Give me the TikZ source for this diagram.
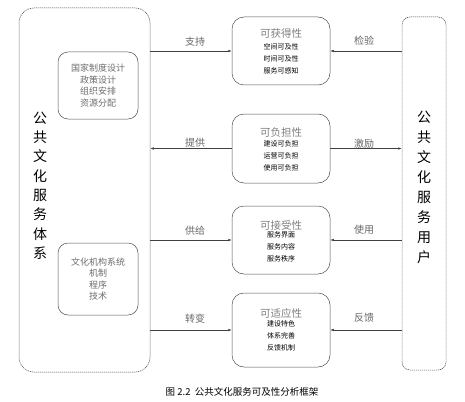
\documentclass[tikz,border=0pt]{standalone}
\usepackage{fontspec}
\newfontfamily\cjk{Noto Sans CJK SC}
\usetikzlibrary{arrows.meta}
\definecolor{ln}{HTML}{404040}
\definecolor{bx}{HTML}{505050}
\definecolor{tg}{HTML}{808080}
\begin{document}
\begin{tikzpicture}[x=1pt,y=-1pt,
  outer/.style={draw=ln,line width=0.5pt,dash pattern=on 1.2pt off 0.8pt,rounded corners=15pt},
  inbox/.style={draw=bx,line width=0.5pt,rounded corners=10pt},
  midbox/.style={draw=bx,line width=0.5pt,rounded corners=12pt,minimum width=98pt},
  ttl/.style={font=\cjk\fontsize{10.5}{12}\selectfont,text=tg,inner sep=0pt},
  sub/.style={font=\cjk\fontsize{7}{11.8}\selectfont,align=center,inner sep=0pt},
  gtx/.style={font=\cjk\fontsize{9}{11.6}\selectfont,text=tg!85!black,align=center,inner sep=0pt},
  lbl/.style={font=\cjk\fontsize{10}{12}\selectfont,text=tg!80!black,inner sep=0pt},
  vt/.style={font=\cjk\fontsize{14}{19.3}\selectfont,align=center,inner sep=0pt},
  arr/.style={draw=ln,line width=0.5pt,-{Latex[length=3.5pt,width=2.5pt]}}]
\useasboundingbox (0,0) rectangle (465,401);
% outer boxes
\node[outer,minimum width=131pt,minimum height=364pt] (L) at (84.5,190) {};
\node[outer,rounded corners=8pt,minimum width=44pt,minimum height=353pt] (R) at (424,193.5) {};
\node[vt] (LT) at (40,185.5) {公\\共\\文\\化\\服\\务\\体\\系};
\node[vt,font=\cjk\fontsize{14}{20.1}\selectfont] (RT) at (424,187.5) {公\\共\\文\\化\\服\\务\\用\\户};
% inner left boxes
\node[inbox,minimum width=80pt,minimum height=67pt] (LA) at (98,85.5) {};
\node[gtx] (LAt) at (98,85.5) {国家制度设计\\政策设计\\组织安排\\资源分配};
\node[inbox,minimum width=80pt,minimum height=72pt] (LB) at (98,279) {};
\node[gtx] (LBt) at (98,279) {文化机构系统\\机制\\程序\\技术};
% middle boxes
\node[midbox,minimum height=68pt] (B1) at (281,51) {};
\node[ttl] (T1) at (281,34) {可获得性};
\node[sub] (S1) at (281,59) {空间可及性\\时间可及性\\服务可感知};
\node[midbox,minimum height=69pt] (B2) at (281,148.5) {};
\node[ttl] (T2) at (281,133) {可负担性};
\node[sub] (S2) at (281,156) {建设可负担\\运营可负担\\使用可负担};
\node[midbox,minimum height=68pt] (B3) at (281,240) {};
\node[ttl] (T3) at (281,225) {可接受性};
\node[sub] (S3) at (281,247) {服务界面\\服务内容\\服务秩序};
\node[midbox,minimum height=74pt] (B4) at (281,330) {};
\node[ttl] (T4) at (281,314) {可适应性};
\node[sub] (S4) at (281,336) {建设特色\\体系完善\\反馈机制};
% connectors left
\draw[arr] (B1.west -| L.east) -- (B1.west);
\draw[arr] (B2.west) -- (B2.west -| L.east);
\draw[arr] (B3.west -| L.east) -- (B3.west);
\draw[arr] (B4.west -| L.east) -- (B4.west);
\node[lbl] (l1) at (195,42) {支持};
\node[lbl] (l2) at (195,143) {提供};
\node[lbl] (l3) at (195,231) {供给};
\node[lbl] (l4) at (195,319) {转变};
% connectors right
\draw[arr] (B1.east -| R.west) -- (B1.east);
\draw[arr] (B2.east) -- (B2.east -| R.west);
\draw[arr] (B3.east -| R.west) -- (B3.east);
\draw[arr] (B4.east -| R.west) -- (B4.east);
\node[lbl] (r1) at (364,41) {检验};
\node[lbl] (r2) at (364,144) {激励};
\node[lbl] (r3) at (364,230) {使用};
\node[lbl] (r4) at (364,318) {反馈};
% caption
\node[font=\cjk\fontsize{9.5}{12}\selectfont,inner sep=0pt] (cap) at (242,392) {图 2.2\ \ 公共文化服务可及性分析框架};
\end{tikzpicture}
\end{document}
